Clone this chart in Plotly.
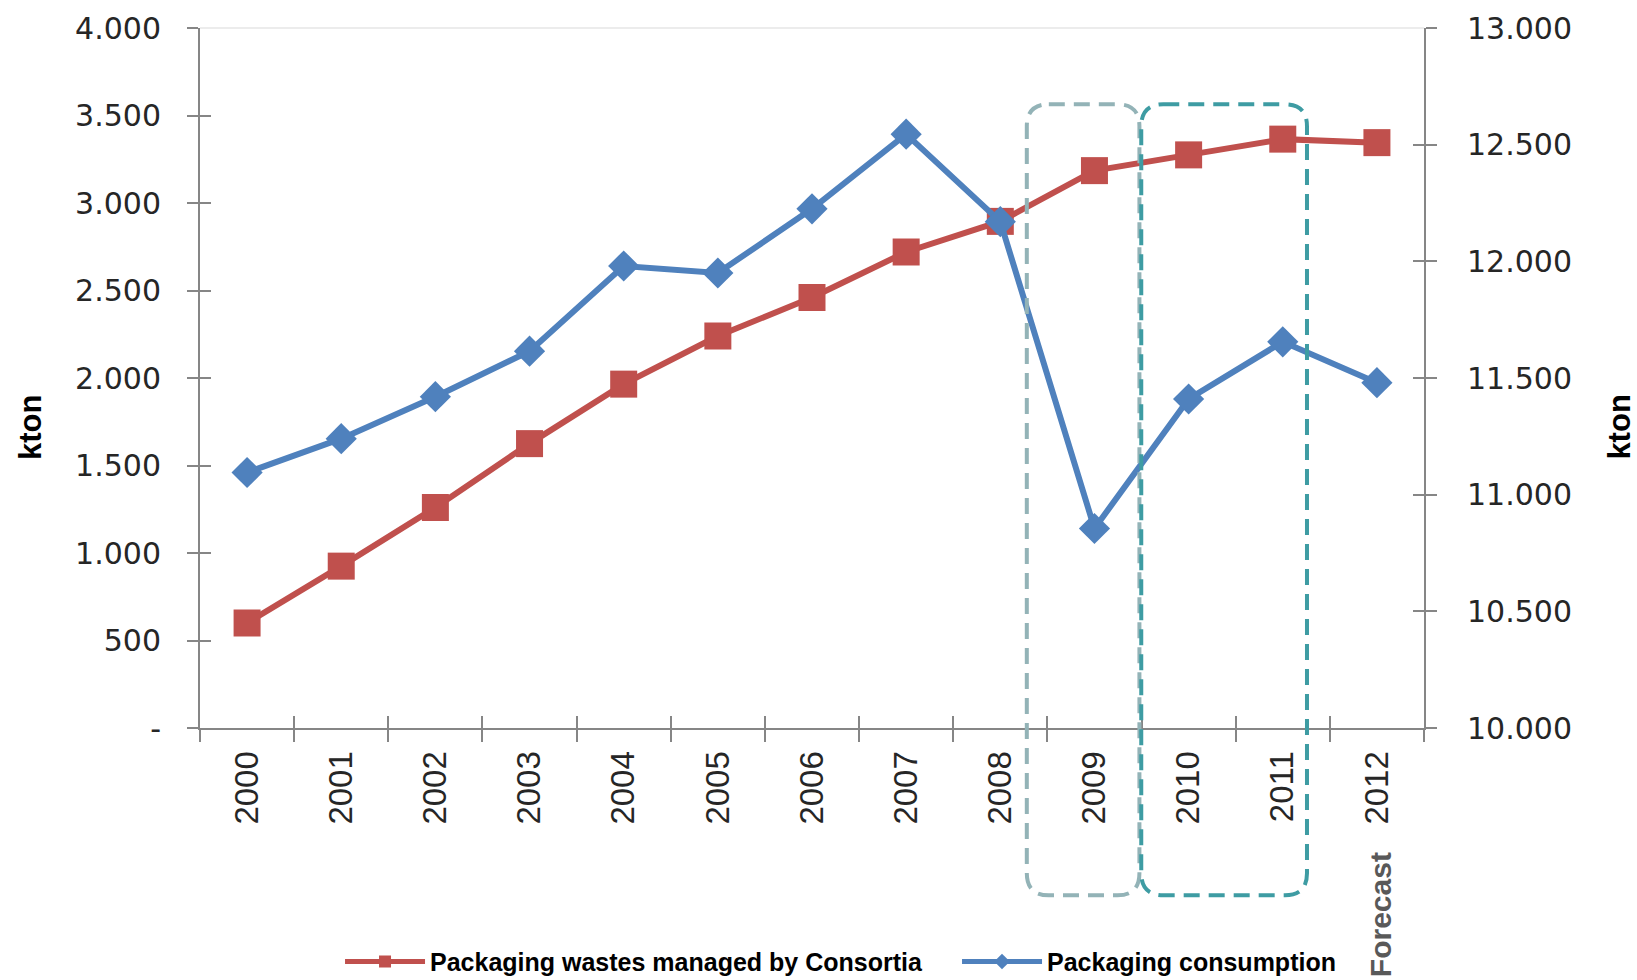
import plotly.graph_objects as go

years = ["2000", "2001", "2002", "2003", "2004", "2005", "2006",
         "2007", "2008", "2009", "2010", "2011", "2012"]
wastes_managed = [600, 925, 1260, 1625, 1965, 2240, 2460, 2720, 2895, 3185, 3275, 3365, 3345]
consumption = [11095, 11240, 11420, 11615, 11980, 11950, 12225, 12545, 12170, 10855, 11410, 11655, 11480]

left_ticks = [0, 500, 1000, 1500, 2000, 2500, 3000, 3500, 4000]
right_ticks = [10000, 10500, 11000, 11500, 12000, 12500, 13000]


def fmt(v):
    return "-" if v == 0 else f"{v:,}".replace(",", ".")


RED = "#C0504D"
BLUE = "#4F81BD"
AXIS = "#868686"
TXT = "#262626"

W, H = 1637, 980
ML, MR, MT, MB = 200, 213, 28, 252
PW, PH = W - ML - MR, H - MT - MB

fig = go.Figure()
fig.add_trace(go.Scatter(
    x=years, y=wastes_managed, name="Packaging wastes managed by Consortia",
    mode="lines+markers", line=dict(color=RED, width=6), legendwidth=522,
    marker=dict(symbol="square", size=27, color=RED), yaxis="y", xaxis="x"))
fig.add_trace(go.Scatter(
    x=years, y=consumption, name="Packaging consumption",
    mode="lines+markers", line=dict(color=BLUE, width=6), legendwidth=300,
    marker=dict(symbol="diamond", size=24, color=BLUE), yaxis="y2", xaxis="x"))

n = len(years)
bounds = [i - 0.5 for i in range(n + 1)]

fig.update_layout(
    width=W, height=H,
    margin=dict(l=ML, r=MR, t=MT, b=MB, autoexpand=False),
    paper_bgcolor="white", plot_bgcolor="white",
    showlegend=True,
    xaxis=dict(type="category", range=[-0.5, n - 0.5], tickson="boundaries",
               ticks="outside", ticklen=12, tickwidth=2, tickcolor=AXIS,
               showline=True, linecolor=AXIS, linewidth=2, showgrid=False,
               tickangle=-90, ticklabelstandoff=8, automargin=False,
               tickfont=dict(family="Liberation Sans, Arial", size=33, color=TXT)),
    xaxis2=dict(overlaying="x", anchor="y", range=[-0.5, n - 0.5],
                tickvals=bounds, ticks="inside", ticklen=12, tickwidth=2,
                tickcolor=AXIS, showticklabels=False, showgrid=False,
                showline=False, zeroline=False),
    yaxis=dict(range=[0, 4000], tickvals=left_ticks,
               ticktext=[fmt(v) for v in left_ticks],
               ticks="outside", ticklen=11, tickwidth=2, tickcolor=AXIS,
               showline=True, linecolor=AXIS, linewidth=2, showgrid=False,
               zeroline=False, ticklabelstandoff=20, automargin=False,
               tickfont=dict(family="DejaVu Sans, Verdana", size=30, color=TXT)),
    yaxis3=dict(overlaying="y", anchor="x", range=[0, 4000], tickvals=left_ticks,
                ticks="inside", ticklen=11, tickwidth=2, tickcolor=AXIS,
                showticklabels=False, showgrid=False, zeroline=False, showline=False),
    yaxis2=dict(overlaying="y", side="right", anchor="x", range=[10000, 13000],
                tickvals=right_ticks, ticktext=[fmt(v) for v in right_ticks],
                ticks="outside", ticklen=11, tickwidth=2, tickcolor=AXIS,
                showline=True, linecolor=AXIS, linewidth=2, showgrid=False,
                zeroline=False, ticklabelstandoff=24, automargin=False,
                tickfont=dict(family="DejaVu Sans, Verdana", size=30, color=TXT)),
    yaxis4=dict(overlaying="y", side="right", anchor="x", range=[10000, 13000],
                tickvals=right_ticks, ticks="inside", ticklen=11, tickwidth=2,
                tickcolor=AXIS, showticklabels=False, showgrid=False,
                zeroline=False, showline=False),
    legend=dict(orientation="h", x=0.1144, xanchor="left", y=-0.334, yanchor="middle",
                itemwidth=80, entrywidthmode="pixels",
                itemsizing="constant", bgcolor="rgba(0,0,0,0)",
                font=dict(family="Liberation Sans, Arial", size=25, color="black",
                          weight="bold")),
)

# invisible helper traces so that the overlay axes are drawn
fig.add_trace(go.Scatter(x=[0], y=[None], xaxis="x2", yaxis="y3", showlegend=False,
                         hoverinfo="skip", mode="markers"))
fig.add_trace(go.Scatter(x=[0], y=[None], xaxis="x2", yaxis="y4", showlegend=False,
                         hoverinfo="skip", mode="markers"))

# axis titles and the forecast note
fig.add_annotation(text="<b>kton</b>", xref="paper", yref="paper", x=-0.1389, y=0.43,
                   xanchor="center", yanchor="middle", textangle=-90, showarrow=False,
                   font=dict(family="Liberation Sans, Arial", size=31, color="black"))
fig.add_annotation(text="<b>kton</b>", xref="paper", yref="paper", x=1.159, y=0.43,
                   xanchor="center", yanchor="middle", textangle=-90, showarrow=False,
                   font=dict(family="Liberation Sans, Arial", size=31, color="black"))
fig.add_annotation(text="<b>Forecast</b>", xref="paper", yref="paper", x=0.964, y=-0.266,
                   xanchor="center", yanchor="middle", textangle=-90, showarrow=False,
                   font=dict(family="Liberation Sans, Arial", size=30, color="#595959"))

# plot-area top border
fig.add_shape(type="line", xref="paper", yref="paper", x0=0, x1=1, y0=1, y1=1,
              line=dict(color="#D9D9D9", width=1))


def rounded_box(x0, x1, y0, y1, r_px):
    rx, ry = r_px / PW, r_px / PH
    return (f"M {x0 + rx},{y1} L {x1 - rx},{y1} Q {x1},{y1} {x1},{y1 - ry} "
            f"L {x1},{y0 + ry} Q {x1},{y0} {x1 - rx},{y0} "
            f"L {x0 + rx},{y0} Q {x0},{y0} {x0},{y0 + ry} "
            f"L {x0},{y1 - ry} Q {x0},{y1} {x0 + rx},{y1} Z")


fig.add_shape(type="path", xref="paper", yref="paper",
              path=rounded_box(0.6755, 0.7675, -0.239, 0.891, 22),
              line=dict(color="#93B3B7", width=4, dash="16px,9px"))
fig.add_shape(type="path", xref="paper", yref="paper",
              path=rounded_box(0.7690, 0.9044, -0.239, 0.891, 22),
              line=dict(color="#3E9CA3", width=4, dash="16px,9px"))

fig.write_html("out.html", config={"displayModeBar": False},
               post_script="document.body.style.margin='0px';"
                           "document.body.style.overflow='hidden';")
